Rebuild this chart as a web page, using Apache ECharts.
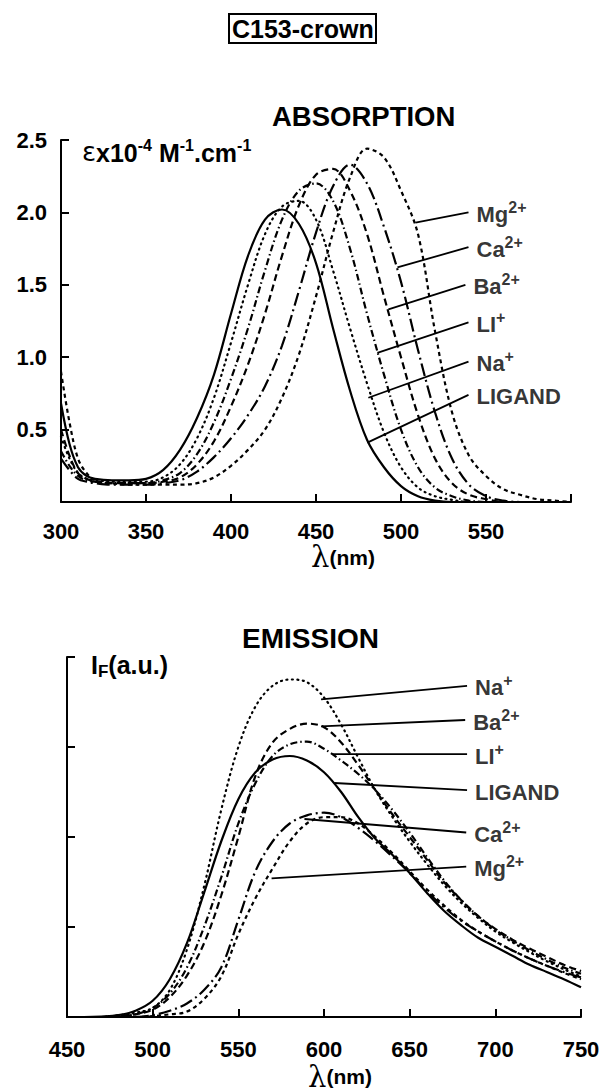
<!DOCTYPE html>
<html><head><meta charset="utf-8">
<script src="https://cdn.jsdelivr.net/npm/echarts@6/dist/echarts.min.js"></script>
<style>html,body{margin:0;padding:0;background:#fff}#c{width:606px;height:1092px}</style>
</head><body><div id="c"></div>
<script>
// ---------- ABSORPTION data ----------
const ABS_WL = [300,305,310,315,320,330,340,350,360,370,380,390,400,410,420,430,440,450,460,470,480,490,500,510,520,530,540,550,560,570,580,590,600];
const ABS_LIGAND = [0.68,0.40,0.24,0.18,0.16,0.15,0.15,0.16,0.22,0.36,0.58,0.88,1.30,1.70,1.95,2.02,1.92,1.65,1.20,0.77,0.43,0.24,0.11,0.04,0.01,0,0,0,0,0,0,0,0];
const ABS_NA = [0.45,0.30,0.20,0.16,0.15,0.14,0.14,0.14,0.17,0.26,0.44,0.72,1.10,1.50,1.85,2.04,2.08,1.95,1.60,1.20,0.82,0.48,0.24,0.10,0.04,0.015,0,0,0,0,0,0,0];
const ABS_LI = [0.35,0.25,0.18,0.15,0.14,0.13,0.13,0.13,0.15,0.20,0.33,0.55,0.85,1.20,1.60,1.95,2.15,2.20,2.08,1.75,1.30,0.88,0.50,0.24,0.10,0.04,0.01,0,0,0,0,0,0];
const ABS_BA = [0.50,0.32,0.20,0.16,0.14,0.13,0.13,0.13,0.14,0.17,0.26,0.42,0.66,0.95,1.30,1.70,2.05,2.26,2.30,2.15,1.85,1.42,1.00,0.60,0.30,0.13,0.05,0.02,0,0,0,0,0];
const ABS_CA = [0.30,0.22,0.16,0.14,0.13,0.12,0.12,0.12,0.13,0.15,0.21,0.31,0.44,0.60,0.80,1.08,1.46,1.86,2.18,2.33,2.20,1.90,1.52,1.05,0.62,0.30,0.12,0.04,0.01,0,0,0,0];
const ABS_MG = [0.90,0.55,0.30,0.20,0.15,0.13,0.12,0.12,0.12,0.12,0.13,0.17,0.25,0.36,0.50,0.72,1.02,1.42,1.86,2.24,2.44,2.38,2.15,1.85,1.18,0.62,0.32,0.18,0.09,0.05,0.02,0.01,0];
const ABS_X_TICKS = [300,350,400,450,500,550,600];
const ABS_Y_TICKS = [0,0.5,1.0,1.5,2.0,2.5];

// ---------- EMISSION data ----------
const EM_WL = [450,460,470,480,490,500,510,520,530,540,550,560,570,580,590,600,610,620,630,640,650,660,670,680,690,700,710,720,730,740,750];
const EM_LIGAND = [0,0,0.005,0.02,0.07,0.18,0.42,0.82,1.38,1.95,2.42,2.72,2.86,2.9,2.85,2.72,2.5,2.22,1.98,1.8,1.6,1.38,1.18,1.02,0.88,0.78,0.68,0.58,0.5,0.42,0.33];
const EM_NA = [0,0,0,0.02,0.05,0.1,0.3,0.75,1.45,2.3,3.0,3.45,3.68,3.75,3.72,3.55,3.25,2.88,2.52,2.22,1.95,1.7,1.47,1.27,1.1,0.95,0.83,0.72,0.62,0.53,0.45];
const EM_LI = [0,0,0,0.01,0.03,0.1,0.26,0.55,1.0,1.55,2.15,2.6,2.9,3.03,3.06,2.98,2.85,2.7,2.52,2.3,2.05,1.78,1.52,1.3,1.12,0.97,0.85,0.74,0.64,0.55,0.48];
const EM_BA = [0,0,0,0.01,0.03,0.08,0.22,0.46,0.82,1.35,2.0,2.68,3.05,3.2,3.26,3.22,3.05,2.8,2.52,2.25,2.0,1.75,1.5,1.3,1.12,0.98,0.86,0.76,0.67,0.58,0.51];
const EM_CA = [0,0,0,0,0,0.02,0.07,0.15,0.3,0.55,1.08,1.62,1.95,2.15,2.24,2.27,2.22,2.1,1.95,1.78,1.6,1.4,1.22,1.07,0.95,0.84,0.74,0.65,0.57,0.5,0.44];
const EM_MG = [0,0,0,0,0,0.01,0.03,0.06,0.2,0.45,0.92,1.32,1.65,1.95,2.15,2.22,2.22,2.15,2.0,1.82,1.62,1.42,1.24,1.08,0.95,0.84,0.74,0.65,0.57,0.49,0.42];
const EM_X_TICKS = [450,500,550,600,650,700,750];

// ---------- labels and leader lines ----------
const ION_BASE = ['Mg','Ca','Ba','LI','Na','LIGAND'];
const ION_SUP  = ['2+','2+','2+','+','+',''];
const ABS_LEADERS = [
  [[508.5,1.93],[539.7,2.00]],
  [[497.9,1.62],[539.7,1.76]],
  [[492.6,1.33],[537.9,1.50]],
  [[486.1,1.03],[539.7,1.24]],
  [[480.8,0.72],[539.7,0.97]],
  [[480.2,0.41],[539.7,0.74]]
];
const EM_ORDER = ['Na','Ba','LI','LIGAND','Ca','Mg'];
const EM_LEADERS = [
  [[598.3,3.53],[683.5,3.68]],
  [[598.3,3.23],[682.4,3.30]],
  [[604.9,2.92],[683.5,2.92]],
  [[606.0,2.60],[683.5,2.52]],
  [[588.6,2.20],[683.0,2.05]],
  [[569.4,1.54],[683.0,1.67]]
];

const STYLE = {
  LIGAND: {type:'solid', cap:'butt'},
  Na: {type:[1,4.5], cap:'round'},
  LI: {type:[7,3,1.5,3], cap:'butt'},
  Ba: {type:[7,4], cap:'butt'},
  Ca: {type:[13,4,2,4], cap:'butt'},
  Mg: {type:[4,3.5], cap:'butt'}
};

const FONT = 'Liberation Sans';
const richBase = {
  b: {fontFamily: FONT, fontWeight: 'bold', fontSize: 22, color: '#000', lineHeight: 26, verticalAlign: 'bottom'},
  s: {fontFamily: FONT, fontWeight: 'bold', fontSize: 16, color: '#000', lineHeight: 14, verticalAlign: 'top'}
};
function ionText(base, sup) { return '{b|' + base + '}' + (sup ? '{s|' + sup + '}' : ''); }

function curve(name, wl, vals, gi) {
  const st = STYLE[name];
  return {
    type: 'line', name: name, xAxisIndex: gi, yAxisIndex: gi,
    data: wl.map((w, i) => [w, vals[i]]),
    smooth: 0.35, symbol: 'none', silent: true,
    lineStyle: {color: '#000', width: 2.2, type: st.type, cap: st.cap}
  };
}
function leader(pts, gi) {
  return {type: 'line', xAxisIndex: gi, yAxisIndex: gi, data: pts, symbol: 'none', silent: true,
    lineStyle: {color: '#000', width: 1.8, type: 'solid'}};
}
function labelSeries(leaders, names, gi) {
  return {
    type: 'scatter', xAxisIndex: gi, yAxisIndex: gi, symbolSize: 0, silent: true,
    data: leaders.map((l, i) => ({value: l[1], name: names[i]})),
    label: {show: true, position: 'right', distance: 8,
      formatter: p => ionText(p.name, ION_SUP[ION_BASE.indexOf(p.name)]),
      rich: richBase}
  };
}

const axisLine = {show: true, onZero: false, lineStyle: {color: '#000', width: 2}};
const axisTick = {show: true, inside: true, length: 8, lineStyle: {color: '#000', width: 2}};
const tickLabel = {color: '#000', fontFamily: FONT, fontWeight: 'bold', fontSize: 22};
function lambdaName(shift) {
  return {
    padding: [0, 0, 0, shift],
    rich: {
      l: {fontFamily: 'DejaVu Serif', fontSize: 29, color: '#000'},
      n: {fontFamily: FONT, fontWeight: 'bold', fontSize: 21, color: '#000'}
    }
  };
}

const series = [];
series.push(curve('LIGAND', ABS_WL, ABS_LIGAND, 0));
series.push(curve('Na', ABS_WL, ABS_NA, 0));
series.push(curve('LI', ABS_WL, ABS_LI, 0));
series.push(curve('Ba', ABS_WL, ABS_BA, 0));
series.push(curve('Ca', ABS_WL, ABS_CA, 0));
series.push(curve('Mg', ABS_WL, ABS_MG, 0));
ABS_LEADERS.forEach(l => series.push(leader(l, 0)));
series.push(labelSeries(ABS_LEADERS, ION_BASE, 0));

series.push(curve('LIGAND', EM_WL, EM_LIGAND, 1));
series.push(curve('Na', EM_WL, EM_NA, 1));
series.push(curve('LI', EM_WL, EM_LI, 1));
series.push(curve('Ba', EM_WL, EM_BA, 1));
series.push(curve('Ca', EM_WL, EM_CA, 1));
series.push(curve('Mg', EM_WL, EM_MG, 1));
EM_LEADERS.forEach(l => series.push(leader(l, 1)));
series.push(labelSeries(EM_LEADERS, EM_ORDER, 1));

const chart = echarts.init(document.getElementById('c'), null, {renderer: 'svg', width: 606, height: 1092});
chart.setOption({
  animation: false,
  backgroundColor: '#fff',
  title: [
    {text: 'C153-crown', left: 229, top: 14, padding: [1, 3, 1, 3], borderColor: '#000', borderWidth: 2,
      textStyle: {fontFamily: FONT, fontWeight: 'bold', fontSize: 25, color: '#000', lineHeight: 27}},
    {text: 'ABSORPTION', left: 272, top: 102, padding: 0,
      textStyle: {fontFamily: FONT, fontWeight: 'bold', fontSize: 27.5, color: '#000'}},
    {text: 'EMISSION', left: 242, top: 624, padding: 0,
      textStyle: {fontFamily: FONT, fontWeight: 'bold', fontSize: 28, color: '#000'}}
  ],
  grid: [
    {left: 61, top: 140, width: 510, height: 362, containLabel: false},
    {left: 67, top: 657, width: 514, height: 365, containLabel: false}
  ],
  xAxis: [
    {type: 'value', gridIndex: 0, min: ABS_X_TICKS[0], max: ABS_X_TICKS[ABS_X_TICKS.length - 1], interval: 50,
      axisLine, axisTick, splitLine: {show: false},
      axisLabel: Object.assign({}, tickLabel, {margin: 18, showMinLabel: true, showMaxLabel: true,
        formatter: v => v === 600 ? '' : String(v)}),
      name: '{l|λ}{n|(nm)}', nameLocation: 'middle', nameGap: 40, nameTextStyle: lambdaName(54)},
    {type: 'value', gridIndex: 1, min: EM_X_TICKS[0], max: EM_X_TICKS[EM_X_TICKS.length - 1], interval: 50,
      axisLine, axisTick, splitLine: {show: false},
      axisLabel: Object.assign({}, tickLabel, {margin: 21, showMinLabel: true, showMaxLabel: true}),
      name: '{l|λ}{n|(nm)}', nameLocation: 'middle', nameGap: 45, nameTextStyle: lambdaName(32)}
  ],
  yAxis: [
    {type: 'value', gridIndex: 0, min: ABS_Y_TICKS[0], max: ABS_Y_TICKS[ABS_Y_TICKS.length - 1], interval: 0.5,
      axisLine, axisTick, splitLine: {show: false},
      axisLabel: Object.assign({}, tickLabel, {margin: 14, showMaxLabel: true,
        formatter: v => v === 0 ? '' : v.toFixed(1)})},
    {type: 'value', gridIndex: 1, min: 0, max: 4, interval: 1,
      axisLine, axisTick, splitLine: {show: false}, axisLabel: {show: false}}
  ],
  graphic: [
    {type: 'text', left: 82, top: 137, silent: true, style: {
      text: '{e|ε}{t|x10}{s|-4}{t| M}{s|-1}{t|.cm}{s|-1}',
      rich: {
        e: {fontFamily: 'DejaVu Sans', fontSize: 26, color: '#000', lineHeight: 28, verticalAlign: 'bottom'},
        t: {fontFamily: FONT, fontWeight: 'bold', fontSize: 25, color: '#000', lineHeight: 28, verticalAlign: 'bottom'},
        s: {fontFamily: FONT, fontWeight: 'bold', fontSize: 16, color: '#000', lineHeight: 15, verticalAlign: 'top'}
      }}},
    {type: 'text', left: 91, top: 652, silent: true, style: {
      text: '{t|I}{u|F}{t|(a.u.)}',
      rich: {
        t: {fontFamily: FONT, fontWeight: 'bold', fontSize: 25, color: '#000', lineHeight: 28, verticalAlign: 'top'},
        u: {fontFamily: FONT, fontWeight: 'bold', fontSize: 17, color: '#000', lineHeight: 15, verticalAlign: 'bottom'}
      }}}
  ],
  series: series
});
</script></body></html>
